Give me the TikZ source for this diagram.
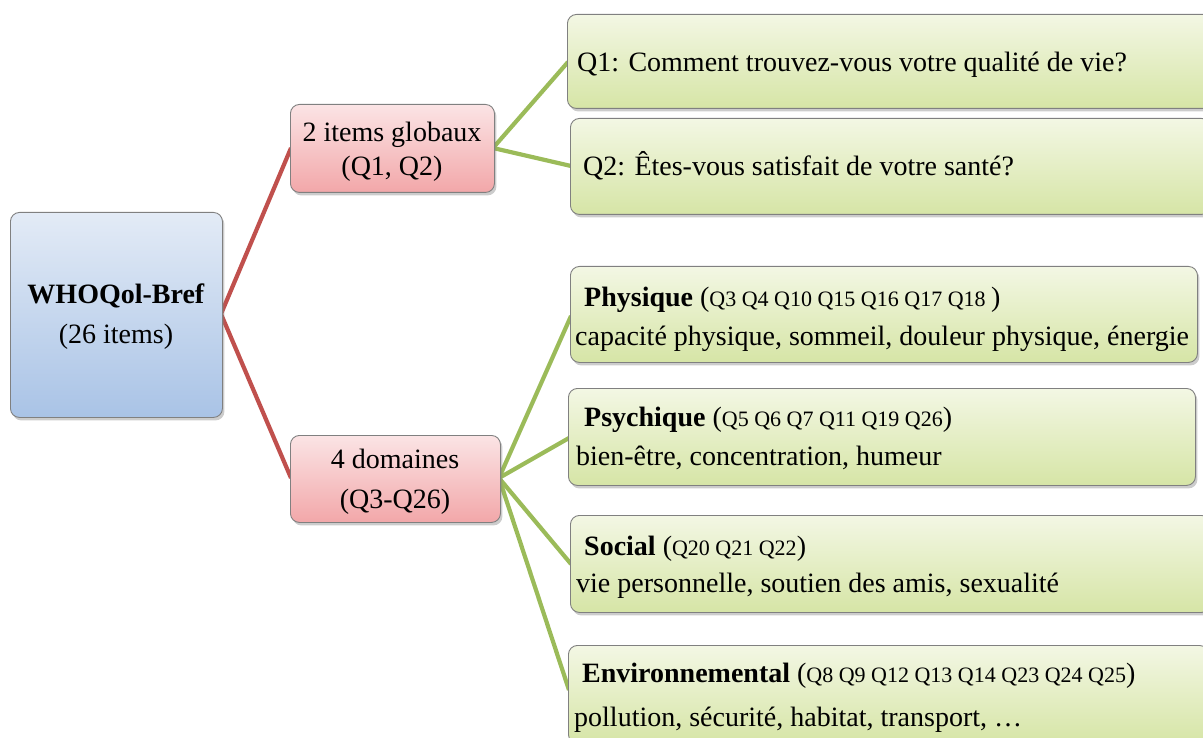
\documentclass[tikz,border=0pt]{standalone}
\usepackage{fontspec}
\setmainfont{Liberation Serif}
\usetikzlibrary{shadows}
\definecolor{redline}{HTML}{C0504D}
\definecolor{greenline}{HTML}{9BBB59}
\definecolor{bluetop}{HTML}{E3EBF6}
\definecolor{bluebot}{HTML}{A9C3E6}
\definecolor{pinktop}{HTML}{FBE4E5}
\definecolor{pinkbot}{HTML}{F2A7A9}
\definecolor{greentop}{HTML}{F3F7E4}
\definecolor{greenbot}{HTML}{D6E5A6}
\tikzset{
  box/.style={draw=black!50, line width=0.9pt, rounded corners=9pt, anchor=north west,
    drop shadow={shadow xshift=2pt, shadow yshift=-3pt, opacity=0.4}},
  bluebox/.style={box, top color=bluetop, bottom color=bluebot},
  pinkbox/.style={box, top color=pinktop, bottom color=pinkbot},
  greenbox/.style={box, top color=greentop, bottom color=greenbot},
  txt/.style={inner sep=0pt, anchor=base west, font=\fontsize{28}{32}\selectfont},
  ctxt/.style={inner sep=0pt, align=center, font=\fontsize{28}{40}\selectfont},
  redconn/.style={draw=redline, line width=4.2pt},
  greenconn/.style={draw=greenline, line width=4.2pt},
}
\newcommand{\qs}[1]{{\fontsize{22}{24}\selectfont #1}}
\begin{document}
\begin{tikzpicture}[x=1pt,y=-1pt]
\useasboundingbox (0,0) rectangle (1203,738);
% connector end points
\coordinate (rootE) at (221,314);
\coordinate (globW) at (291,148);
\coordinate (domW) at (291,478);
\coordinate (globE) at (493,148);
\coordinate (domE) at (499,478);
\coordinate (q1W) at (568,62);
\coordinate (q2W) at (571,166);
\coordinate (phyW) at (571,316);
\coordinate (psyW) at (569,438);
\coordinate (socW) at (571,564);
\coordinate (envW) at (569,690);
\draw[redconn] (rootE) -- (globW);
\draw[redconn] (rootE) -- (domW);
\draw[greenconn] (globE) -- (q1W);
\draw[greenconn] (globE) -- (q2W);
\draw[greenconn] (domE) -- (phyW);
\draw[greenconn] (domE) -- (psyW);
\draw[greenconn] (domE) -- (socW);
\draw[greenconn] (domE) -- (envW);
% boxes
\node[bluebox, minimum width=212pt, minimum height=205pt] (root) at (10,212) {};
\node[pinkbox, minimum width=204pt, minimum height=88pt] (glob) at (290,104) {};
\node[pinkbox, minimum width=210pt, minimum height=87pt] (dom) at (290,435) {};
\node[greenbox, minimum width=645pt, minimum height=94pt] (q1) at (567,14) {};
\node[greenbox, minimum width=640pt, minimum height=96pt] (q2) at (570,118) {};
\node[greenbox, minimum width=627pt, minimum height=96pt] (phy) at (570,266) {};
\node[greenbox, minimum width=627pt, minimum height=97pt] (psy) at (568,388) {};
\node[greenbox, minimum width=640pt, minimum height=97pt] (soc) at (570,515) {};
\node[greenbox, minimum width=640pt, minimum height=98pt] (env) at (568,645) {};
% texts
\node[ctxt] (roott) at (116,317) {\textbf{WHOQol-Bref}\\(26 items)};
\node[ctxt, font=\fontsize{28}{34}\selectfont] (globt) at (392,152) {2 items globaux\\(Q1, Q2)};
\node[ctxt] (domt) at (395,482) {4 domaines\\(Q3-Q26)};
\node[txt] (q1t) at (577,72) {Q1: Comment trouvez-vous votre qualité de vie?};
\node[txt] (q2t) at (583,176) {Q2: Êtes-vous satisfait de votre santé?};
\node[txt] (phy1) at (584,306) {\textbf{Physique} (\qs{Q3 Q4 Q10 Q15 Q16 Q17 Q18 })};
\node[txt] (phy2) at (575,345) {capacité physique, sommeil, douleur physique, énergie};
\node[txt] (psy1) at (584,426) {\textbf{Psychique} (\qs{Q5 Q6 Q7 Q11 Q19 Q26})};
\node[txt] (psy2) at (576,465) {bien-être, concentration, humeur};
\node[txt] (soc1) at (584,555) {\textbf{Social} (\qs{Q20 Q21 Q22})};
\node[txt] (soc2) at (576,592) {vie personnelle, soutien des amis, sexualité};
\node[txt] (env1) at (582,682) {\textbf{Environnemental} (\qs{Q8 Q9 Q12 Q13 Q14 Q23 Q24 Q25})};
\node[txt] (env2) at (574,726) {pollution, sécurité, habitat, transport, …};
\end{tikzpicture}
\end{document}
